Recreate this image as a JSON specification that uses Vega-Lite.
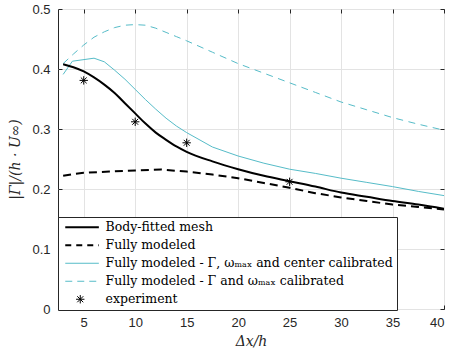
{
  "$schema": "https://vega.github.io/schema/vega-lite/v6.json",
  "width": 386,
  "height": 300,
  "autosize": {"type": "none"},
  "padding": {"left": 58, "top": 9, "right": 7, "bottom": 49},
  "background": "white",
  "config": {
    "view": {"stroke": "#262626", "strokeWidth": 1},
    "axis": {
      "labelFont": "Liberation Sans",
      "labelFontSize": 13,
      "labelColor": "#262626",
      "domainColor": "#262626",
      "tickColor": "#262626",
      "gridColor": "#e3e3e3",
      "gridWidth": 1,
      "titleColor": "#262626",
      "titleFont": "DejaVu Serif",
      "titleFontStyle": "italic",
      "titleFontWeight": "normal",
      "titleFontSize": 14
    },
    "legend": {"labelFont": "DejaVu Serif", "labelFontSize": 12.5, "labelFontWeight": "normal"}
  },
  "data": {
    "values": [
      {"x": 3, "y": 0.408, "series": "Body-fitted mesh"},
      {"x": 4, "y": 0.403, "series": "Body-fitted mesh"},
      {"x": 5, "y": 0.396, "series": "Body-fitted mesh"},
      {"x": 6, "y": 0.386, "series": "Body-fitted mesh"},
      {"x": 7, "y": 0.374, "series": "Body-fitted mesh"},
      {"x": 8, "y": 0.36, "series": "Body-fitted mesh"},
      {"x": 9, "y": 0.343, "series": "Body-fitted mesh"},
      {"x": 10, "y": 0.326, "series": "Body-fitted mesh"},
      {"x": 11, "y": 0.309, "series": "Body-fitted mesh"},
      {"x": 12, "y": 0.294, "series": "Body-fitted mesh"},
      {"x": 13, "y": 0.282, "series": "Body-fitted mesh"},
      {"x": 14, "y": 0.271, "series": "Body-fitted mesh"},
      {"x": 15, "y": 0.262, "series": "Body-fitted mesh"},
      {"x": 17.5, "y": 0.246, "series": "Body-fitted mesh"},
      {"x": 20, "y": 0.233, "series": "Body-fitted mesh"},
      {"x": 22.5, "y": 0.222, "series": "Body-fitted mesh"},
      {"x": 25, "y": 0.213, "series": "Body-fitted mesh"},
      {"x": 27.5, "y": 0.204, "series": "Body-fitted mesh"},
      {"x": 30, "y": 0.194, "series": "Body-fitted mesh"},
      {"x": 32.5, "y": 0.187, "series": "Body-fitted mesh"},
      {"x": 35, "y": 0.18, "series": "Body-fitted mesh"},
      {"x": 37.5, "y": 0.174, "series": "Body-fitted mesh"},
      {"x": 40, "y": 0.167, "series": "Body-fitted mesh"},

      {"x": 3, "y": 0.222, "series": "Fully modeled"},
      {"x": 4, "y": 0.225, "series": "Fully modeled"},
      {"x": 5, "y": 0.227, "series": "Fully modeled"},
      {"x": 7.5, "y": 0.229, "series": "Fully modeled"},
      {"x": 10, "y": 0.231, "series": "Fully modeled"},
      {"x": 12.5, "y": 0.2325, "series": "Fully modeled"},
      {"x": 15, "y": 0.229, "series": "Fully modeled"},
      {"x": 17.5, "y": 0.224, "series": "Fully modeled"},
      {"x": 20, "y": 0.218, "series": "Fully modeled"},
      {"x": 22.5, "y": 0.21, "series": "Fully modeled"},
      {"x": 25, "y": 0.202, "series": "Fully modeled"},
      {"x": 27.5, "y": 0.193, "series": "Fully modeled"},
      {"x": 30, "y": 0.186, "series": "Fully modeled"},
      {"x": 32.5, "y": 0.18, "series": "Fully modeled"},
      {"x": 35, "y": 0.174, "series": "Fully modeled"},
      {"x": 37.5, "y": 0.17, "series": "Fully modeled"},
      {"x": 40, "y": 0.166, "series": "Fully modeled"},

      {"x": 3, "y": 0.391, "series": "Fully modeled - Γ, ωₘₐₓ and center calibrated"},
      {"x": 3.9, "y": 0.413, "series": "Fully modeled - Γ, ωₘₐₓ and center calibrated"},
      {"x": 6, "y": 0.418, "series": "Fully modeled - Γ, ωₘₐₓ and center calibrated"},
      {"x": 7, "y": 0.412, "series": "Fully modeled - Γ, ωₘₐₓ and center calibrated"},
      {"x": 8, "y": 0.398, "series": "Fully modeled - Γ, ωₘₐₓ and center calibrated"},
      {"x": 9, "y": 0.383, "series": "Fully modeled - Γ, ωₘₐₓ and center calibrated"},
      {"x": 10, "y": 0.366, "series": "Fully modeled - Γ, ωₘₐₓ and center calibrated"},
      {"x": 11, "y": 0.349, "series": "Fully modeled - Γ, ωₘₐₓ and center calibrated"},
      {"x": 12, "y": 0.333, "series": "Fully modeled - Γ, ωₘₐₓ and center calibrated"},
      {"x": 13, "y": 0.318, "series": "Fully modeled - Γ, ωₘₐₓ and center calibrated"},
      {"x": 14, "y": 0.305, "series": "Fully modeled - Γ, ωₘₐₓ and center calibrated"},
      {"x": 15, "y": 0.294, "series": "Fully modeled - Γ, ωₘₐₓ and center calibrated"},
      {"x": 17.5, "y": 0.27, "series": "Fully modeled - Γ, ωₘₐₓ and center calibrated"},
      {"x": 20, "y": 0.255, "series": "Fully modeled - Γ, ωₘₐₓ and center calibrated"},
      {"x": 22.5, "y": 0.243, "series": "Fully modeled - Γ, ωₘₐₓ and center calibrated"},
      {"x": 25, "y": 0.233, "series": "Fully modeled - Γ, ωₘₐₓ and center calibrated"},
      {"x": 27.5, "y": 0.226, "series": "Fully modeled - Γ, ωₘₐₓ and center calibrated"},
      {"x": 30, "y": 0.218, "series": "Fully modeled - Γ, ωₘₐₓ and center calibrated"},
      {"x": 32.5, "y": 0.211, "series": "Fully modeled - Γ, ωₘₐₓ and center calibrated"},
      {"x": 35, "y": 0.204, "series": "Fully modeled - Γ, ωₘₐₓ and center calibrated"},
      {"x": 37.5, "y": 0.196, "series": "Fully modeled - Γ, ωₘₐₓ and center calibrated"},
      {"x": 40, "y": 0.189, "series": "Fully modeled - Γ, ωₘₐₓ and center calibrated"},

      {"x": 3, "y": 0.409, "series": "Fully modeled - Γ and ωₘₐₓ calibrated"},
      {"x": 4, "y": 0.425, "series": "Fully modeled - Γ and ωₘₐₓ calibrated"},
      {"x": 5, "y": 0.44, "series": "Fully modeled - Γ and ωₘₐₓ calibrated"},
      {"x": 6, "y": 0.453, "series": "Fully modeled - Γ and ωₘₐₓ calibrated"},
      {"x": 7, "y": 0.462, "series": "Fully modeled - Γ and ωₘₐₓ calibrated"},
      {"x": 8, "y": 0.469, "series": "Fully modeled - Γ and ωₘₐₓ calibrated"},
      {"x": 9, "y": 0.473, "series": "Fully modeled - Γ and ωₘₐₓ calibrated"},
      {"x": 10, "y": 0.474, "series": "Fully modeled - Γ and ωₘₐₓ calibrated"},
      {"x": 11, "y": 0.473, "series": "Fully modeled - Γ and ωₘₐₓ calibrated"},
      {"x": 12, "y": 0.468, "series": "Fully modeled - Γ and ωₘₐₓ calibrated"},
      {"x": 13, "y": 0.461, "series": "Fully modeled - Γ and ωₘₐₓ calibrated"},
      {"x": 14, "y": 0.454, "series": "Fully modeled - Γ and ωₘₐₓ calibrated"},
      {"x": 15, "y": 0.447, "series": "Fully modeled - Γ and ωₘₐₓ calibrated"},
      {"x": 17.5, "y": 0.428, "series": "Fully modeled - Γ and ωₘₐₓ calibrated"},
      {"x": 20, "y": 0.409, "series": "Fully modeled - Γ and ωₘₐₓ calibrated"},
      {"x": 22.5, "y": 0.393, "series": "Fully modeled - Γ and ωₘₐₓ calibrated"},
      {"x": 25, "y": 0.377, "series": "Fully modeled - Γ and ωₘₐₓ calibrated"},
      {"x": 27.5, "y": 0.361, "series": "Fully modeled - Γ and ωₘₐₓ calibrated"},
      {"x": 30, "y": 0.345, "series": "Fully modeled - Γ and ωₘₐₓ calibrated"},
      {"x": 32.5, "y": 0.332, "series": "Fully modeled - Γ and ωₘₐₓ calibrated"},
      {"x": 35, "y": 0.319, "series": "Fully modeled - Γ and ωₘₐₓ calibrated"},
      {"x": 37.5, "y": 0.308, "series": "Fully modeled - Γ and ωₘₐₓ calibrated"},
      {"x": 40, "y": 0.298, "series": "Fully modeled - Γ and ωₘₐₓ calibrated"},

      {"x": 5, "y": 0.381, "series": "experiment"},
      {"x": 10, "y": 0.312, "series": "experiment"},
      {"x": 15, "y": 0.277, "series": "experiment"},
      {"x": 25, "y": 0.212, "series": "experiment"}
    ]
  },
  "resolve": {"axis": {"x": "independent", "y": "independent"}},
  "layer": [
    {
      "transform": [{"filter": "datum.series == 'Fully modeled - Γ and ωₘₐₓ calibrated'"}],
      "mark": {"type": "line", "strokeWidth": 1, "strokeDash": [7, 5.5], "clip": true},
      "encoding": {
        "x": {"field": "x", "type": "quantitative", "scale": {"domain": [2.5, 40], "nice": false, "zero": false},
          "axis": {"orient": "bottom", "values": [5, 10, 15, 20, 25, 30, 35, 40], "title": "Δx/h", "grid": true,
            "tickSize": -4, "labelPadding": 11, "titlePadding": 5, "domain": false}},
        "y": {"field": "y", "type": "quantitative", "scale": {"domain": [0, 0.5], "nice": false, "zero": false},
          "axis": {"orient": "left", "values": [0, 0.1, 0.2, 0.3, 0.4, 0.5], "labelExpr": "datum.value == 0 ? '0' : format(datum.value, '.1f')",
            "title": "|Γ|/(h · U∞)", "grid": true, "tickSize": -4, "labelPadding": 12, "titlePadding": 9, "domain": false}},
        "stroke": {
          "field": "series", "type": "nominal",
          "scale": {
            "domain": ["Body-fitted mesh", "Fully modeled", "Fully modeled - Γ, ωₘₐₓ and center calibrated", "Fully modeled - Γ and ωₘₐₓ calibrated", "experiment"],
            "range": ["black", "black", "#56bcc8", "#56bcc8", "black"]
          },
          "legend": {
            "orient": "none",
            "legendX": 0,
            "legendY": 208,
            "title": null,
            "labelFont": "DejaVu Serif",
            "labelFontSize": 12.5,
            "labelColor": "black",
            "labelLimit": 400,
            "padding": 4,
            "rowPadding": 5,
            "strokeColor": "#262626",
            "fillColor": "white",
            "symbolSize": 36,
            "labelOffset": 31,
            "encode": {
              "labels": {"update": {"font": {"value": "DejaVu Serif"}, "fontWeight": {"value": "normal"}}},
              "symbols": {
                "update": {
                  "shape": {"signal": "datum.index == 4 ? 'M4,-1.4V1.4M2.6,0H5.4M3,-1L5,1M3,1L5,-1' : 'M-1,0H10.2'"},
                  "strokeDash": {"signal": "datum.index == 1 ? [6,5] : datum.index == 3 ? [7,5] : []"},
                  "strokeWidth": {"signal": "datum.index == 2 || datum.index == 3 ? 1 : (datum.index == 4 ? 1 : 2)"},
                  "fill": {"value": "transparent"},
                  "opacity": {"value": 1}
                }
              }
            }
          }
        }
      }
    },
    {
      "transform": [{"filter": "datum.series == 'Fully modeled - Γ, ωₘₐₓ and center calibrated'"}],
      "mark": {"type": "line", "strokeWidth": 1, "clip": true},
      "encoding": {
        "x": {"field": "x", "type": "quantitative", "axis": null},
        "y": {"field": "y", "type": "quantitative", "axis": null},
        "stroke": {"field": "series", "type": "nominal"}
      }
    },
    {
      "transform": [{"filter": "datum.series == 'Fully modeled'"}],
      "mark": {"type": "line", "strokeWidth": 2, "strokeDash": [8, 5], "clip": true},
      "encoding": {
        "x": {"field": "x", "type": "quantitative", "axis": null},
        "y": {"field": "y", "type": "quantitative", "axis": null},
        "stroke": {"field": "series", "type": "nominal"}
      }
    },
    {
      "transform": [{"filter": "datum.series == 'Body-fitted mesh'"}],
      "mark": {"type": "line", "strokeWidth": 2, "interpolate": "monotone", "clip": true},
      "encoding": {
        "x": {"field": "x", "type": "quantitative", "axis": null},
        "y": {"field": "y", "type": "quantitative", "axis": null},
        "stroke": {"field": "series", "type": "nominal"}
      }
    },
    {
      "transform": [{"filter": "datum.series == 'experiment'"}],
      "mark": {"type": "point", "filled": false, "strokeWidth": 1, "size": 70, "opacity": 1,
        "shape": "M0,-1V1M-1,0H1M-0.7,-0.7L0.7,0.7M-0.7,0.7L0.7,-0.7"},
      "encoding": {
        "x": {"field": "x", "type": "quantitative",
          "axis": {"orient": "top", "values": [5, 10, 15, 20, 25, 30, 35, 40], "labels": false, "title": null, "grid": false, "tickSize": -4, "domain": false}},
        "y": {"field": "y", "type": "quantitative",
          "axis": {"orient": "right", "values": [0, 0.1, 0.2, 0.3, 0.4, 0.5], "labels": false, "title": null, "grid": false, "tickSize": -4, "domain": false}},
        "stroke": {"field": "series", "type": "nominal"}
      }
    }
  ]
}
